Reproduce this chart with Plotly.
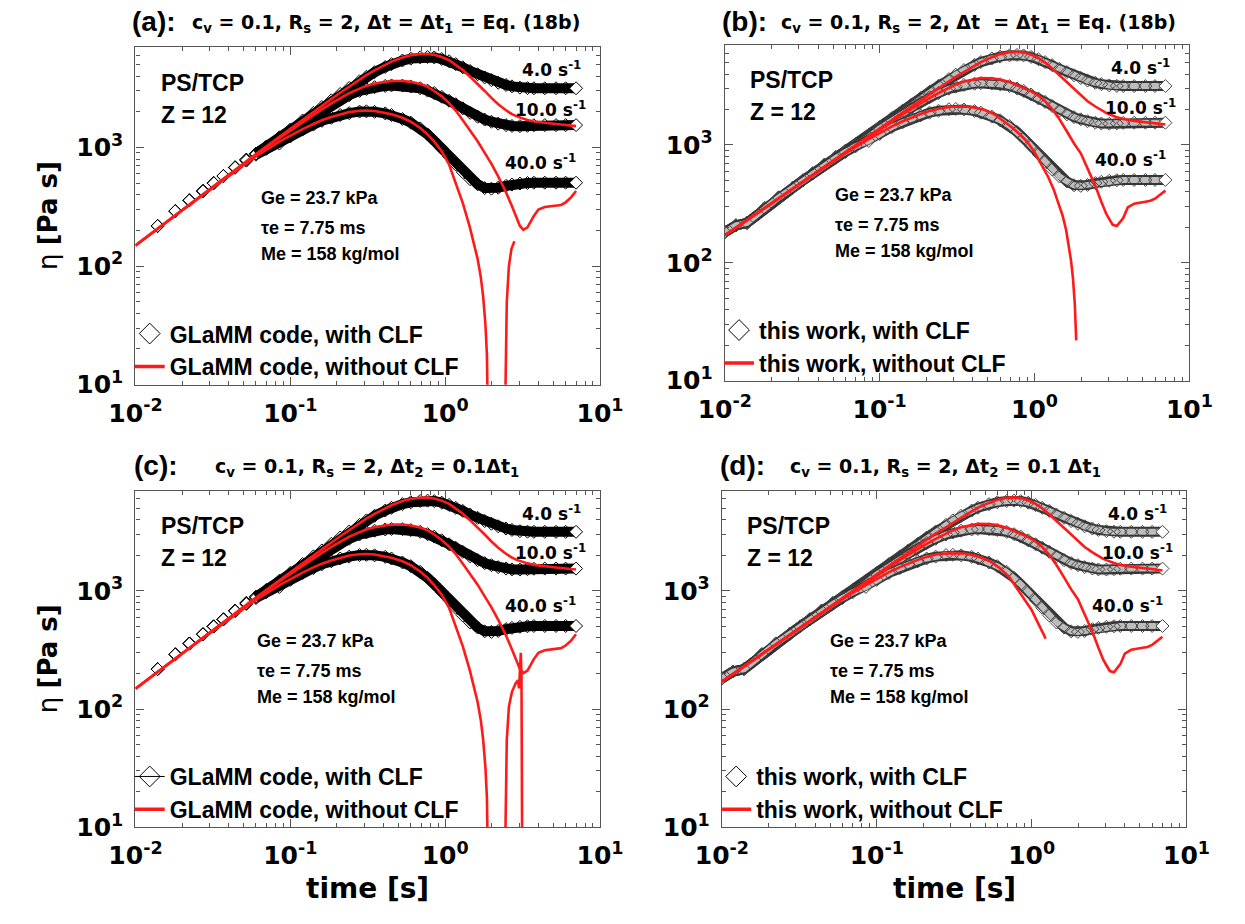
import plotly.graph_objects as go

W, H = 1245, 924

# ---------------- data ----------------
RATES = ["4.0", "10.0", "40.0"]

# with CLF (diamonds), GLaMM code (panels a, c)
T_CLF = [0.0139, 0.0181, 0.0223, 0.0273, 0.032, 0.037, 0.044, 0.052, 0.06, 0.07,
         0.085, 0.1, 0.12, 0.141, 0.16, 0.184, 0.21, 0.24, 0.28, 0.31,
         0.35, 0.41, 0.45, 0.53, 0.6, 0.69, 0.77, 0.85, 0.95, 1.06,
         1.17, 1.3, 1.45, 1.62, 1.8, 1.99, 2.2, 2.47, 2.7, 3.04,
         3.4, 3.74, 4.4, 5.2, 6.0, 7.0]
CLF_4 = [218, 291, 359, 430, 501, 575, 681, 790, 890, 1020,
         1220, 1420, 1690, 1960, 2200, 2500, 2830, 3180, 3620, 3950,
         4320, 4780, 5050, 5420, 5620, 5760, 5800, 5750, 5580, 5340,
         5050, 4750, 4420, 4150, 3900, 3700, 3520, 3370, 3280, 3200,
         3170, 3160, 3160, 3160, 3160, 3160]
CLF_10 = [218, 291, 359, 430, 501, 575, 681, 790, 890, 1010,
          1170, 1380, 1620, 1860, 2060, 2300, 2540, 2760, 3000, 3120,
          3230, 3310, 3340, 3330, 3270, 3160, 3020, 2880, 2680, 2480,
          2320, 2140, 1960, 1820, 1720, 1650, 1590, 1545, 1520, 1515,
          1525, 1540, 1545, 1545, 1545, 1545]
CLF_40 = [218, 291, 359, 430, 501, 575, 675, 775, 870, 975,
          1080, 1240, 1420, 1560, 1680, 1780, 1880, 1950, 2010, 2020,
          2000, 1940, 1880, 1740, 1620, 1450, 1290, 1140, 980, 840,
          720, 620, 540, 490, 455, 450, 458, 475, 487, 497,
          502, 505, 505, 505, 505, 505]
# this work starts earlier (panels b, d)
T_CLF_W_START = [0.01, 0.0118]
CLF_W_START = [182, 208]

# without CLF (red lines)
T_RED = [0.01, 0.0139, 0.02, 0.03, 0.044, 0.06, 0.085, 0.1, 0.12, 0.141,
         0.16, 0.184, 0.21, 0.24, 0.28, 0.31, 0.35, 0.41, 0.45, 0.53,
         0.6, 0.69, 0.77, 0.85, 0.95, 1.06, 1.17, 1.3, 1.45, 1.62,
         1.8, 1.99, 2.2, 2.47, 2.7, 2.9, 3.04, 3.2, 3.4, 3.74,
         4.0, 4.4, 5.2, 5.6, 6.0, 6.5, 7.0]
RED_G_4 = [149, 207, 295, 440, 645, 880, 1230, 1440, 1720, 2000,
           2250, 2560, 2900, 3270, 3750, 4080, 4480, 5000, 5300, 5750,
           6000, 6130, 6150, 6050, 5800, 5450, 5000, 4500, 3950, 3450,
           3000, 2620, 2320, 2060, 1910, 1830, 1790, 1750, 1710, 1660,
           1640, 1610, 1580, 1565, 1545, 1530, 1515]
RED_G_10 = [149, 207, 295, 440, 640, 870, 1200, 1390, 1640, 1890,
            2100, 2360, 2620, 2870, 3140, 3310, 3460, 3590, 3640, 3640,
            3580, 3440, 3250, 3000, 2700, 2370, 2050, 1700, 1380, 1130,
            900, 727, 570, 420, 320, 250, 218, 202, 212, 265,
            300, 315, 323, 328, 345, 380, 430]
T_RED_G_40 = [0.01, 0.0139, 0.02, 0.03, 0.044, 0.06, 0.085, 0.1, 0.12, 0.141,
              0.16, 0.184, 0.21, 0.24, 0.28, 0.31, 0.35, 0.41, 0.45, 0.53,
              0.6, 0.69, 0.77, 0.85, 0.95, 1.06, 1.17, 1.3, 1.44, 1.55,
              1.62, 1.7, 1.76, 1.82, 1.86, 1.9]
RED_G_40 = [149, 207, 295, 435, 630, 840, 1120, 1260, 1430, 1580,
            1700, 1810, 1910, 1990, 2040, 2050, 2030, 1970, 1910, 1780,
            1650, 1460, 1290, 1120, 930, 720, 500, 340, 215, 150,
            115, 80, 55, 32, 18, 3]
# branch after the negative excursion
T_RED_G_40_RET_A = [2.42, 2.45, 2.5, 2.58, 2.68, 2.8]
RED_G_40_RET_A = [3, 15, 50, 100, 140, 162]
T_RED_G_40_RET_C = [2.42, 2.45, 2.5, 2.58, 2.7, 2.85, 2.95, 3.0, 3.04, 3.08, 3.11, 3.15]
RED_G_40_RET_C = [3, 15, 55, 105, 140, 165, 175, 150, 200, 300, 190, 3]

RED_W_4 = [171, 230, 321, 464, 655, 869, 1190, 1380, 1630, 1890,
           2110, 2400, 2710, 3050, 3450, 3780, 4150, 4700, 5050, 5550,
           5900, 6120, 6180, 6100, 5850, 5450, 5000, 4450, 3900, 3380,
           2950, 2620, 2350, 2120, 1960, 1870, 1820, 1770, 1720, 1660,
           1630, 1600, 1560, 1550, 1530, 1510, 1490]
RED_W_10 = [171, 230, 320, 460, 650, 860, 1170, 1350, 1580, 1820,
            2020, 2260, 2500, 2760, 3060, 3250, 3450, 3630, 3690, 3680,
            3600, 3420, 3220, 3040, 2850, 2620, 2350, 2020, 1650, 1300,
            1030, 850, 640, 450, 330, 262, 235, 210, 205, 240,
            295, 318, 330, 336, 350, 380, 410]
T_RED_W_40_B = [0.01, 0.0139, 0.02, 0.03, 0.044, 0.06, 0.085, 0.1, 0.12, 0.141,
                0.16, 0.184, 0.21, 0.24, 0.29, 0.33, 0.37, 0.42, 0.48, 0.55,
                0.63, 0.72, 0.81, 0.9, 1.0, 1.1, 1.23, 1.33, 1.43, 1.52,
                1.6, 1.67, 1.72, 1.77, 1.82, 1.86]
RED_W_40_B = [171, 230, 321, 462, 648, 850, 1120, 1270, 1440, 1590,
              1710, 1830, 1940, 2030, 2110, 2130, 2120, 2060, 1980, 1820,
              1600, 1400, 1220, 1060, 870, 700, 530, 420, 320, 250,
              190, 140, 105, 75, 45, 22]
T_RED_W_40_D = [0.01, 0.0139, 0.02, 0.03, 0.044, 0.06, 0.085, 0.1, 0.12, 0.141,
                0.16, 0.184, 0.21, 0.24, 0.29, 0.33, 0.37, 0.42, 0.48, 0.55,
                0.63, 0.72, 0.81, 0.9, 1.0, 1.08, 1.15, 1.2, 1.23]
RED_W_40_D = [171, 230, 321, 462, 648, 850, 1120, 1270, 1440, 1590,
              1710, 1830, 1940, 2030, 2080, 2090, 2070, 2000, 1900, 1750,
              1540, 1300, 1040, 850, 690, 560, 480, 425, 393]

X_TICKS = [0.01, 0.1, 1, 10]
X_TICKTEXT = ["10<sup>-2</sup>", "10<sup>-1</sup>", "10<sup>0</sup>", "10<sup>1</sup>"]
Y_TICKS = [10, 100, 1000]
Y_TICKTEXT = ["10<sup>1</sup>", "10<sup>2</sup>", "10<sup>3</sup>"]
X_MINOR = [m * 10 ** e for e in (-2, -1, 0) for m in range(2, 10)]
Y_MINOR = [m * 10 ** e for e in (1, 2) for m in range(2, 10)] + [2000, 3000, 4000, 5000, 6000, 7000]

TITLES = {
    "a": ("(a):", "c<sub>v</sub> = 0.1, R<sub>s</sub> = 2, \u0394t = \u0394t<sub>1</sub> = Eq. (18b)"),
    "b": ("(b):", "c<sub>v</sub> = 0.1, R<sub>s</sub> = 2, \u0394t&nbsp; = \u0394t<sub>1</sub> = Eq. (18b)"),
    "c": ("(c):", "c<sub>v</sub> = 0.1, R<sub>s</sub> = 2, \u0394t<sub>2</sub> = 0.1\u0394t<sub>1</sub>"),
    "d": ("(d):", "c<sub>v</sub> = 0.1, R<sub>s</sub> = 2, \u0394t<sub>2</sub> = 0.1 \u0394t<sub>1</sub>"),
}
LEGEND_NAMES = {
    "a": ("GLaMM code, with CLF", "GLaMM code, without CLF"),
    "b": ("this work, with CLF", "this work, without CLF"),
    "c": ("GLaMM code, with CLF", "GLaMM code, without CLF"),
    "d": ("this work, with CLF", "this work, without CLF"),
}

# ---------------- layout geometry (pixels) ----------------
PANELS = {
    "a": dict(x0=113, x1=597, y0=48, y1=391, ax="", tx=(107, 170), ty=22),
    "b": dict(x0=727, x1=1211, y0=46, y1=387, ax="2", tx=(722, 783), ty=22),
    "c": dict(x0=113, x1=597, y0=499, y1=841, ax="3", tx=(109, 194), ty=473),
    "d": dict(x0=724, x1=1208, y0=499, y1=841, ax="4", tx=(720, 793), ty=473),
}
LEG_KEYS = {"a": "legend", "b": "legend2", "c": "legend3", "d": "legend4"}

TICKFONT = dict(family="DejaVu Sans", size=25, color="black", weight="bold")
AXCOL = "#555555"
RED = "#ff1a1a"


def px(x):
    return x / W


def py(y):
    return 1 - y / H


fig = go.Figure()
annotations = []

for key, P in PANELS.items():
    xa, ya = "x" + P["ax"], "y" + P["ax"]
    glamm = key in ("a", "c")
    clf_series = [CLF_4, CLF_10, CLF_40]
    if glamm:
        t_clf = T_CLF
        ys = clf_series
        band_start = 8
    else:
        t_clf = T_CLF_W_START + T_CLF
        ys = [CLF_W_START + s for s in clf_series]
        band_start = 0

    # diamond bands
    for yv in ys:
        if glamm:
            fig.add_trace(go.Scatter(x=t_clf[band_start:], y=yv[band_start:], mode="lines",
                                     line=dict(color="black", width=10), xaxis=xa, yaxis=ya,
                                     showlegend=False, hoverinfo="skip"))
        else:
            fig.add_trace(go.Scatter(x=t_clf, y=yv, mode="lines",
                                     line=dict(color="#333333", width=10), xaxis=xa, yaxis=ya,
                                     showlegend=False, hoverinfo="skip"))
            fig.add_trace(go.Scatter(x=t_clf, y=yv, mode="lines",
                                     line=dict(color="#bdbdbd", width=6), xaxis=xa, yaxis=ya,
                                     showlegend=False, hoverinfo="skip"))
        fills = ["rgba(0,0,0,0)"] * (len(t_clf) - 1) + ["white"]
        fig.add_trace(go.Scatter(x=t_clf, y=yv, mode="markers",
                                 marker=dict(symbol="diamond", size=10, color=fills,
                                             line=dict(color="black" if glamm else "#444", width=1)),
                                 xaxis=xa, yaxis=ya, showlegend=False))

    # red lines
    if glamm:
        reds = [(T_RED, RED_G_4), (T_RED, RED_G_10)]
        if key == "a":
            reds.append((T_RED_G_40 + [None] + T_RED_G_40_RET_A, RED_G_40 + [None] + RED_G_40_RET_A))
        else:
            reds.append((T_RED_G_40 + [None] + T_RED_G_40_RET_C, RED_G_40 + [None] + RED_G_40_RET_C))
    else:
        reds = [(T_RED, RED_W_4), (T_RED, RED_W_10)]
        if key == "b":
            reds.append((T_RED_W_40_B, RED_W_40_B))
        else:
            reds.append((T_RED_W_40_D, RED_W_40_D))
    for tx, yv in reds:
        fig.add_trace(go.Scatter(x=tx, y=yv, mode="lines", line=dict(color=RED, width=2.6),
                                 xaxis=xa, yaxis=ya, showlegend=False, connectgaps=False))

    # legend entries
    n1, n2 = LEGEND_NAMES[key]
    fig.add_trace(go.Scatter(x=[None], y=[None], mode="lines+markers" if key == "c" else "markers",
                             name=n1, line=dict(color="black", width=1),
                             marker=dict(symbol="diamond-open", size=16, color="black",
                                         line=dict(width=1)),
                             xaxis=xa, yaxis=ya, legend=LEG_KEYS[key]))
    fig.add_trace(go.Scatter(x=[None], y=[None], mode="lines", name=n2,
                             line=dict(color=RED, width=3.5), xaxis=xa, yaxis=ya,
                             legend=LEG_KEYS[key]))

    # axes
    xdom = [px(P["x0"]), px(P["x1"])]
    ydom = [py(P["y1"]), py(P["y0"])]
    common = dict(type="log", showline=True, linecolor=AXCOL, linewidth=1.3, mirror="allticks",
                  ticks="inside", ticklen=8, tickwidth=1.2, tickcolor=AXCOL, showgrid=False,
                  zeroline=False, tickfont=TICKFONT)
    fig.update_layout(**{
        "xaxis" + P["ax"]: dict(common, domain=xdom, anchor=ya, range=[-2, 1],
                                tickmode="array", tickvals=X_TICKS, ticktext=X_TICKTEXT,
                                ticklabelstandoff=6,
                                minor=dict(ticks="inside", ticklen=4, tickcolor=AXCOL,
                                           tickwidth=1, tickmode="array", tickvals=X_MINOR)),
        "yaxis" + P["ax"]: dict(common, domain=ydom, anchor=xa, range=[1, 3.846],
                                tickmode="array", tickvals=Y_TICKS, ticktext=Y_TICKTEXT,
                                ticklabelstandoff=6,
                                minor=dict(ticks="inside", ticklen=4, tickcolor=AXCOL,
                                           tickwidth=1, tickmode="array", tickvals=Y_MINOR)),
        LEG_KEYS[key]: dict(x=px(P["x0"] - 6), y=py(P["y0"] + 0.785 * (P["y1"] - P["y0"])),
                            xanchor="left", yanchor="top", bgcolor="rgba(0,0,0,0)",
                            font=dict(family="Liberation Sans", size=23, color="black", weight="bold"),
                            tracegroupgap=0, itemwidth=30),
    })

    # panel titles
    t1, t2 = TITLES[key]
    annotations.append(dict(text=t1, x=px(P["tx"][0]), y=py(P["ty"]), xref="paper", yref="paper",
                            xanchor="left", yanchor="middle", showarrow=False,
                            font=dict(family="Liberation Sans", size=28, color="black", weight="bold")))
    annotations.append(dict(text=t2, x=px(P["tx"][1]), y=py(P["ty"] + 2), xref="paper", yref="paper",
                            xanchor="left", yanchor="middle", showarrow=False,
                            font=dict(family="DejaVu Sans", size=19, color="black", weight="bold")))

    # in-plot texts
    xd, yd = xa + " domain", ya + " domain"
    for txt, fx, fy, sz in [("PS/TCP", 0.05, 0.105, 23), ("Z = 12", 0.05, 0.2, 23)]:
        annotations.append(dict(text=txt, x=fx, y=1 - fy, xref=xd, yref=yd, xanchor="left",
                                yanchor="middle", showarrow=False,
                                font=dict(family="Liberation Sans", size=sz, color="black", weight="bold")))
    gx = {"a": 0.265, "b": 0.232, "c": 0.257, "d": 0.228}[key]
    for txt, fy in [("Ge = 23.7 kPa", 0.447), ("\u03c4e = 7.75 ms", 0.536), ("Me = 158 kg/mol", 0.612)]:
        annotations.append(dict(text=txt, x=gx, y=1 - fy, xref=xd, yref=yd, xanchor="left",
                                yanchor="middle", showarrow=False,
                                font=dict(family="Liberation Sans", size=18, color="black", weight="bold")))
    for r, fx, fy in zip(RATES, [0.963, 0.975, 0.953], [0.066, 0.183, 0.34]):
        annotations.append(dict(text=r + " s<sup>-1</sup>", x=fx, y=1 - fy, xref=xd, yref=yd,
                                xanchor="right", yanchor="middle", showarrow=False,
                                font=dict(family="DejaVu Sans", size=17, color="black", weight="bold")))

# axis titles
for yc in [(48 + 391) / 2, (499 + 841) / 2]:
    annotations.append(dict(text="\u03b7 <b>[Pa s]</b>", x=px(22), y=py(yc), xref="paper", yref="paper",
                            textangle=-90, xanchor="center", yanchor="middle", showarrow=False,
                            font=dict(family="DejaVu Sans", size=26, color="black")))
for xc in [(113 + 597) / 2, (724 + 1208) / 2]:
    annotations.append(dict(text="time [s]", x=px(xc), y=py(903), xref="paper", yref="paper",
                            xanchor="center", yanchor="middle", showarrow=False,
                            font=dict(family="DejaVu Sans", size=28, color="black", weight="bold")))

fig.update_layout(width=W, height=H, margin=dict(l=0, r=0, t=0, b=0),
                  paper_bgcolor="white", plot_bgcolor="white",
                  annotations=annotations, showlegend=True)

fig.write_html("out.html")
